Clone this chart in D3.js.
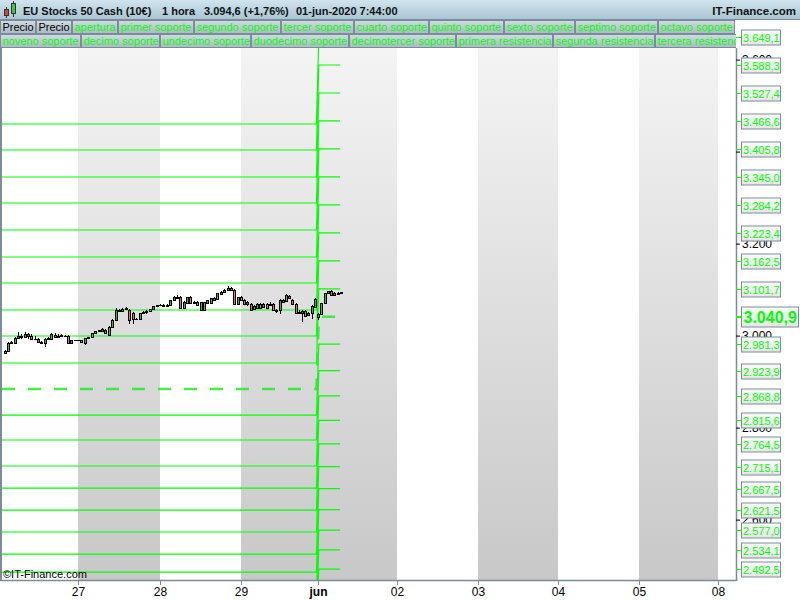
<!DOCTYPE html>
<html><head><meta charset="utf-8">
<script src="https://cdn.jsdelivr.net/npm/d3@7"></script>
<style>body{margin:0;background:#fff}svg text{font-family:"Liberation Sans",Arial,sans-serif}</style>
</head><body><svg id="c" width="800" height="600"></svg>
<script>
// ---------- data ----------
const dayTicks = [1,2,3,4,5,6,7,8,9];
const dayLabels = ["27","28","29","jun","02","03","04","05","08"];
const greyBands = [[1,2],[3,5],[6,7],[8,9]];
// hourly candles [open, high, low, close]
const day26Start = 2; // first hour on 26-may
const day26 = [[2962,2969,2960,2967],[2967,2987,2965,2985],[2985,2988,2983,2986],[2984,2997,2983,2995],[2995,3008,2994,3000],[3000,3003,2993,2998],[2998,3008,2996,3003],[3003,3006,2992,2999],[2999,3004,2990,2992],[2992,2999,2990,2993],[2993,2995,2985,2986],[2986,2989,2983,2985],[2984,2994,2975,2992],[2992,2998,2990,2994],[2993,3006,2991,3003],[3002,3005,2995,2998],[2998,3003,2995,2999],[2999,3004,2996,3001],[3000,3002,2996,3000],[3000,3002,2984,2985],[2985,2991,2984,2990],[2990,2991,2989,2990]];
const day27 = [[2990,2991,2989,2990],[2990,2991,2985,2986],[2985,2995,2979,2994],[2994,2998,2992,2997],[2996,3006,2994,3005],[3005,3011,3003,3010],[3010,3013,3008,3012],[3011,3017,3008,3015],[3013,3015,3005,3006],[3001,3020,2999,3019],[3019,3036,3017,3035],[3035,3060,3033,3056],[3056,3058,3052,3054],[3054,3060,3051,3058],[3058,3062,3055,3059],[3056,3058,3025,3034],[3050,3052,3025,3036],[3036,3039,3033,3037],[3036,3050,3034,3049],[3049,3053,3047,3052],[3051,3055,3046,3053],[3053,3058,3051,3057],[3058,3065,3057,3064],[3064,3067,3063,3066]];
const day28 = [[3066,3068,3064,3066],[3066,3068,3064,3065],[3065,3069,3063,3067],[3066,3078,3065,3077],[3078,3087,3076,3085],[3085,3089,3080,3082],[3084,3086,3058,3059],[3059,3075,3057,3074],[3071,3085,3069,3084],[3084,3087,3069,3070],[3070,3075,3068,3073],[3074,3076,3065,3066],[3056,3073,3054,3072],[3072,3074,3055,3056],[3070,3078,3068,3077],[3070,3082,3068,3081],[3081,3083,3076,3078],[3080,3093,3078,3092],[3091,3096,3089,3094],[3095,3101,3093,3099],[3100,3107,3099,3104],[3103,3105,3098,3100],[3099,3101,3068,3069],[3069,3085,3067,3084]];
const day29 = [[3084,3086,3076,3078],[3077,3079,3068,3069],[3069,3075,3065,3073],[3069,3071,3055,3056],[3058,3067,3056,3065],[3061,3070,3059,3068],[3068,3070,3060,3061],[3062,3070,3060,3069],[3069,3071,3058,3060],[3066,3072,3064,3068],[3068,3070,3055,3056],[3056,3058,3050,3053],[3055,3080,3048,3078],[3078,3080,3072,3074],[3076,3090,3074,3088],[3086,3089,3080,3082],[3078,3080,3068,3069],[3069,3071,3049,3050],[3052,3056,3048,3050],[3050,3056,3030,3053],[3054,3056,3040,3042],[3045,3052,3043,3050],[3049,3066,3037,3064],[3062,3082,3060,3080]];
const jun01 = [[3041,3049,3034,3046],[3046,3071,3044,3070],[3070,3093,3068,3092],[3092,3098,3091,3096],[3097,3099,3087,3089],[3089,3094,3088,3092],[3091,3094,3089,3092],[3093,3095,3092,3094.6]];
// support / resistance levels: previous session vs current session
const prevApertura = 2883.9, newApertura = 3040.9;
const prevResist = [2940.4,2999.1,3055.6,3114.3,3170.9,3229.6,3288.3,3344.8,3403.5,3460.0];
const newResist  = [3101.7,3162.5,3223.4,3284.2,3345.0,3405.8,3466.6,3527.4,3588.3,3649.1];
const prevSupport = [2827.3,2773.0,2716.5,2668.6,2620.8,2573.0,2525.1,2486.0,2448,2411,2376,2342,2310];
const newSupport  = [2981.3,2923.9,2868.8,2815.6,2764.5,2715.1,2667.5,2621.5,2577.0,2534.1,2492.5,2452.3,2413.4];
const levelTimes = [0.05, 3.98, 4.01, 4.28]; // start, old end, new start, new end (day units)
const priceTicks = [2600,2800,3000,3200,3400,3600];
const legendNames = ["apertura","primer soporte","segundo soporte","tercer soporte","cuarto soporte","quinto soporte","sexto soporte","septimo soporte","octavo soporte","noveno soporte","decimo soporte","undecimo soporte","duodecimo soporte","decimotercer soporte","primera resistencia","segunda resistencia","tercera resistencia"];
const titleParts = ["EU Stocks 50 Cash (10€)","1 hora","3.094,6 (+1,76%)","01-jun-2020 7:44:00"];

// ---------- setup ----------
const svg = d3.select("#c");
const L = 2, R = 736, T = 48, B = 580;
const loc = d3.formatLocale({decimal:",",thousands:".",grouping:[3],currency:["","€"]});
const f1 = loc.format(",.1f"), f0 = loc.format(",.0f");
const x = d3.scaleLinear().domain([0,1,2,3,4,5,6,7,8,9]).range([-2,78,160,241,318,397,478,558,639,718]);
const y = d3.scaleLinear().domain([2600,3200]).range([519.6,243.6]);
const GREEN = "#00ff00", FRAME = "#7a8c99";

const defs = svg.append("defs");
function grad(id, stops){
  const g = defs.append("linearGradient").attr("id",id).attr("x1",0).attr("y1",0).attr("x2",0).attr("y2",1);
  stops.forEach((s,i)=>g.append("stop").attr("offset",i/(stops.length-1)).attr("stop-color",s));
}
grad("gHead",["#d0e4ee","#a8c4d2"]);
grad("gCell",["#d0dae1","#abbac4"]);
grad("gBox",["#fbfbfb","#e6e6e6"]);
defs.append("linearGradient").attr("id","gBand").attr("gradientUnits","userSpaceOnUse")
  .attr("x1",0).attr("y1",T).attr("x2",0).attr("y2",B)
  .call(g=>{g.append("stop").attr("offset",0).attr("stop-color","#f4f4f4");g.append("stop").attr("offset",1).attr("stop-color","#c8c8c8");});
defs.append("clipPath").attr("id","plotClip").append("rect").attr("x",L).attr("y",T).attr("width",R-L).attr("height",B-T);
defs.append("clipPath").attr("id","legClip").append("rect").attr("x",0).attr("y",20).attr("width",R).attr("height",28);

// ---------- plot background ----------
const plot = svg.append("g").attr("clip-path","url(#plotClip)");
plot.append("rect").attr("x",L).attr("y",T).attr("width",R-L).attr("height",B-T).attr("fill","#fff");
plot.selectAll("rect.band").data(greyBands).join("rect").attr("class","band")
  .attr("x",d=>x(d[0])).attr("width",d=>x(d[1])-x(d[0])).attr("y",T).attr("height",B-T).attr("fill","url(#gBand)");

// ---------- level step lines ----------
const stepLine = d3.line().x(d=>x(d[0])).y(d=>y(d[1]));
const pairs = prevResist.map((p,i)=>[p,newResist[i]]).concat(prevSupport.map((p,i)=>[p,newSupport[i]]));
plot.selectAll("path.lvl").data(pairs).join("path").attr("class","lvl")
  .attr("d",d=>stepLine([[levelTimes[0],d[0]],[levelTimes[1],d[0]],[levelTimes[2],d[1]],[levelTimes[3],d[1]]]))
  .attr("fill","none").attr("stroke",GREEN).attr("stroke-width",1.2);
plot.append("path")
  .attr("d",stepLine([[levelTimes[0],prevApertura],[levelTimes[1],prevApertura],[levelTimes[2],newApertura],[levelTimes[3],newApertura]]))
  .attr("fill","none").attr("stroke","#22ee22").attr("stroke-width",2.6).attr("stroke-dasharray","13,13").attr("opacity",0.85);

// ---------- candles ----------
const candles = [];
day26.forEach((c,i)=>candles.push({t:0+(day26Start+i)/24,c}));
[day27,day28,day29,jun01].forEach((arr,di)=>arr.forEach((c,i)=>candles.push({t:di+1+i/24,c})));
const cg = plot.append("g");
candles.forEach(d=>{
  const [o,h,l,c] = d.c;
  const px = Math.round(x(d.t));
  cg.append("line").attr("x1",px+0.5).attr("x2",px+0.5).attr("y1",Math.round(y(h))).attr("y2",Math.round(y(l)))
    .attr("stroke","#000").attr("stroke-width",1).attr("shape-rendering","crispEdges");
  const top = Math.round(y(Math.max(o,c)))+0.5, bot = Math.round(y(Math.min(o,c)))+0.5;
  if (bot-top < 1) {
    cg.append("line").attr("x1",px-1).attr("x2",px+2).attr("y1",top).attr("y2",top)
      .attr("stroke","#000").attr("stroke-width",1).attr("shape-rendering","crispEdges");
  } else {
    cg.append("rect").attr("x",px-0.5).attr("width",2).attr("y",top).attr("height",bot-top)
      .attr("fill",c>=o?"#3cb93c":"#e36d6d").attr("stroke","#000").attr("stroke-width",1).attr("shape-rendering","crispEdges");
  }
});

// copyright
svg.append("text").attr("x",3).attr("y",578).attr("font-size",11).attr("fill","#000").text("©IT-Finance.com");

// ---------- frame & axes ----------
svg.append("line").attr("x1",1).attr("x2",1).attr("y1",20).attr("y2",B).attr("stroke",FRAME).attr("stroke-width",2);
svg.append("line").attr("x1",0).attr("x2",R+1).attr("y1",B+0.5).attr("y2",B+0.5).attr("stroke",FRAME).attr("stroke-width",1.5);
svg.append("line").attr("x1",R+0.5).attr("x2",R+0.5).attr("y1",T).attr("y2",B+1).attr("stroke",FRAME).attr("stroke-width",1.5);

const xAxis = svg.append("g").attr("transform",`translate(0,${B})`)
  .call(d3.axisBottom(x).tickValues(dayTicks).tickSize(5).tickPadding(5).tickFormat((d,i)=>dayLabels[i]));
xAxis.select(".domain").remove();
xAxis.selectAll(".tick line").attr("stroke",FRAME);
xAxis.selectAll(".tick text").attr("font-size",12).attr("fill","#000").attr("font-family","Liberation Sans, Arial, sans-serif")
  .attr("y",16).attr("dy",0)
  .attr("font-weight",(d,i)=>dayLabels[i]==="jun"?"bold":"normal");

const yAxis = svg.append("g").attr("transform",`translate(${R},0)`)
  .call(d3.axisRight(y).tickValues(priceTicks).tickSize(4).tickPadding(2).tickFormat(f0));
yAxis.select(".domain").remove();
yAxis.selectAll(".tick line").attr("stroke","#000");
yAxis.selectAll(".tick text").attr("font-size",12).attr("fill","#000").attr("font-family","Liberation Sans, Arial, sans-serif");

// ---------- level labels ----------
const labelVals = newResist.concat(newSupport).filter(v=>y(v)>=25 && y(v)<=B-5);
const lab = svg.append("g");
labelVals.forEach(v=>{
  const yy = Math.round(y(v));
  lab.append("line").attr("x1",R).attr("x2",R+5).attr("y1",yy+0.5).attr("y2",yy+0.5).attr("stroke",GREEN).attr("stroke-width",1);
  lab.append("rect").attr("x",R+5.5).attr("y",yy-7).attr("width",39).attr("height",15).attr("fill","url(#gBox)").attr("stroke",FRAME).attr("stroke-width",1);
  lab.append("text").attr("x",R+7).attr("y",yy+4.5).attr("font-size",11).attr("fill",GREEN).text(f1(v));
});
{
  const yy = Math.round(y(newApertura));
  lab.append("line").attr("x1",R).attr("x2",R+5).attr("y1",yy).attr("y2",yy).attr("stroke",GREEN).attr("stroke-width",2);
  lab.append("rect").attr("x",R+5.5).attr("y",yy-10).attr("width",57).attr("height",20).attr("fill","url(#gBox)").attr("stroke",FRAME).attr("stroke-width",1);
  lab.append("text").attr("x",R+7.5).attr("y",yy+6).attr("font-size",16).attr("font-weight","bold").attr("fill",GREEN).text(f1(newApertura));
}

// ---------- header ----------
svg.append("rect").attr("x",0).attr("y",0).attr("width",800).attr("height",20).attr("fill","url(#gHead)");
svg.append("line").attr("x1",0).attr("x2",800).attr("y1",19.5).attr("y2",19.5).attr("stroke",FRAME);
const icon = svg.append("g");
icon.append("line").attr("x1",6.5).attr("x2",6.5).attr("y1",7).attr("y2",18).attr("stroke","#333");
icon.append("rect").attr("x",4.5).attr("y",9.5).attr("width",4).attr("height",6).attr("fill","#e04040").attr("stroke","#333");
icon.append("line").attr("x1",13.5).attr("x2",13.5).attr("y1",1).attr("y2",17).attr("stroke","#333");
icon.append("rect").attr("x",11.5).attr("y",3.5).attr("width",4).attr("height",10).attr("fill","#30d030").attr("stroke","#333");
const titleX = [23,162,204,296];
titleParts.forEach((t,i)=>svg.append("text").attr("x",titleX[i]).attr("y",15).attr("font-size",11).attr("font-weight","bold").attr("fill","#111").text(t));
svg.append("text").attr("x",796).attr("y",15).attr("text-anchor","end").attr("font-size",11.5).attr("font-weight","bold").attr("fill","#111").text("IT-Finance.com");

// ---------- legend ----------
const leg = svg.append("g").attr("clip-path","url(#legClip)");
const items = [{t:"Precio",c:"#000"},{t:"Precio",c:"#000"}].concat(legendNames.map(t=>({t,c:GREEN})));
let lx = 0, row = 0;
items.forEach(it=>{
  const g = leg.append("g");
  const txt = g.append("text").attr("font-size",11).attr("fill",it.c).text(it.t);
  const w = Math.round(txt.node().getComputedTextLength() + (row===0 ? 4.9 : 4.0));
  if (row===0 && lx + w > 742) { row = 1; lx = 0; }
  const yy = 20.5 + row*14;
  g.insert("rect","text").attr("x",lx+0.5).attr("y",yy).attr("width",w-1).attr("height",13).attr("fill","url(#gCell)").attr("stroke",FRAME);
  txt.attr("x",lx+2.5).attr("y",yy+10.5);
  lx += w;
});
</script></body></html>
